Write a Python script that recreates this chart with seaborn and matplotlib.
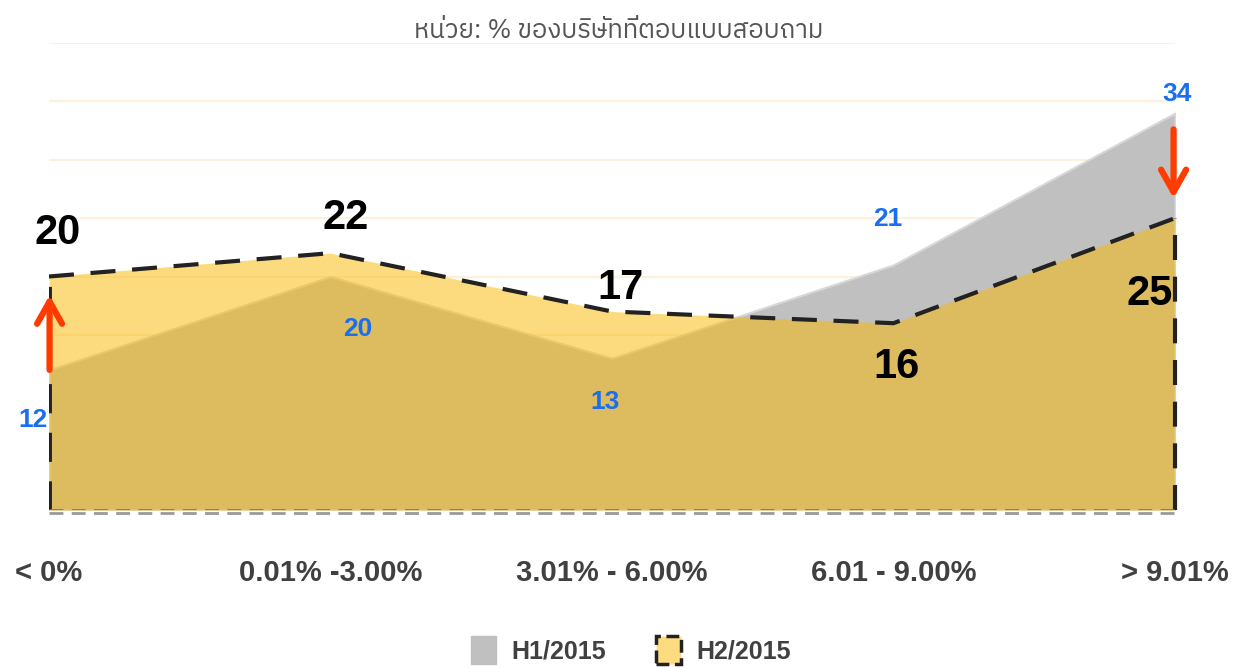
import matplotlib
matplotlib.use("Agg")
import matplotlib.pyplot as plt
from matplotlib import font_manager
from matplotlib.ft2font import FT2Font
from matplotlib.patches import Patch
import seaborn as sns
import numpy as np

categories = ["< 0%", "0.01% -3.00%", "3.01% - 6.00%", "6.01 - 9.00%", "> 9.01%"]
h1_2015 = [12, 20, 13, 21, 34]
h2_2015 = [20, 22, 17, 16, 25]
series_names = ["H1/2015", "H2/2015"]
title = "หน่วย: % ของบริษัทที่ตอบแบบสอบถาม"

# label offsets in pixels (dx, dy) from each point
h2_offsets = [(9, 44), (15, 35), (8, 24), (3, -44), (-25, -76)]
h1_offsets = [(-16, -50), (27, -52), (-7, -44), (-6, 46), (2, 19)]

# arrows: (x, from value, to value)
arrows = [(0.002, 12, 18.4), (3.995, 32.6, 26.7)]


def pick_font(names):
    for n in names:
        try:
            font_manager.findfont(n, fallback_to_default=False)
            return n
        except Exception:
            pass
    return "DejaVu Sans"


def thai_font():
    best = None
    for f in font_manager.fontManager.ttflist:
        try:
            cmap = FT2Font(f.fname).get_charmap()
        except Exception:
            continue
        if 0x0E2B in cmap:
            if "thai" in f.name.lower():
                return f.name
            best = best or f.name
    return best or "DejaVu Sans"


sns.set_style("white")
narrow = pick_font(["Liberation Sans Narrow", "Arial Narrow", "Liberation Sans"])
thai = thai_font()
plt.rcParams["font.family"] = [narrow, "DejaVu Sans"]

gray = "#C0C0C0"
yellow = "#FBB800"
orange = "#FF3B00"

fig = plt.figure(figsize=(12.37, 6.68), dpi=100)
ax = fig.add_axes([49 / 1237, 158 / 668, 1126 / 1237, 467 / 668])
x = np.arange(len(categories))

ax.fill_between(x, h1_2015, color=gray, edgecolor="#D8D8D8", linewidth=1.5, zorder=2)
ax.fill_between(x, h2_2015, color=yellow, alpha=0.5, linewidth=0, zorder=3)
sns.lineplot(x=x, y=h2_2015, ax=ax, color="#222222", linewidth=3, zorder=5)
ax.lines[-1].set_dashes([6, 4])
ax.plot([0, 0], [0, h2_2015[0]], color="#222222", lw=3.5, dashes=[6, 4], zorder=5)
ax.plot([4, 4], [0, h2_2015[-1]], color="#222222", lw=3, dashes=[6, 4], zorder=5, clip_on=False)
ax.axhline(0, color="#777777", lw=2, dashes=[5, 3], zorder=6)
ax.axhline(-0.25, color="#999999", lw=2, dashes=[5, 3], zorder=6, clip_on=False)

for i, v in enumerate(h2_2015):
    dx, dy = h2_offsets[i]
    ax.annotate(str(v), (i, v), xytext=(dx * 0.72, dy * 0.72), textcoords="offset points",
                ha="center", va="center", fontsize=30, fontweight="bold", color="black", zorder=8)
for i, v in enumerate(h1_2015):
    dx, dy = h1_offsets[i]
    ax.annotate(str(v), (i, v), xytext=(dx * 0.72, dy * 0.72), textcoords="offset points",
                ha="center", va="center", fontsize=19, fontweight="bold", color="#1A6EF0", zorder=8)

for ax_x, y0, y1 in arrows:
    ax.annotate("", xy=(ax_x, y1), xytext=(ax_x, y0),
                arrowprops=dict(arrowstyle="->,head_length=0.8,head_width=0.45", color=orange,
                                lw=4.5, mutation_scale=20, shrinkA=0, shrinkB=0),
                zorder=9, annotation_clip=False)

ax.set_xlim(0, 4)
ax.set_ylim(0, 40)
ax.set_yticks(np.arange(0, 41, 5))
ax.yaxis.grid(True, color="#FDF0DF", lw=1.5, zorder=0)
ax.set_axisbelow(True)
ax.set_yticklabels([])
ax.tick_params(axis="y", length=0)
ax.set_xticks(x)
ax.set_xticklabels(categories, fontsize=21, fontweight="bold", color="#404040")
ax.tick_params(axis="x", length=11, width=1, color="#FCEBD5", pad=24)
for s in ax.spines.values():
    s.set_visible(False)

fig.text(0.5, 1 - 30 / 668, title, ha="center", va="center", fontsize=18.5, color="#555555",
         family=[thai, "DejaVu Sans"])

handles = [Patch(facecolor=gray, edgecolor=gray),
           Patch(facecolor="#FDDB7F", edgecolor="#222222", linestyle="--", linewidth=2.5)]
fig.legend(handles, series_names, loc="center", bbox_to_anchor=(0.51, 1 - 650 / 668), ncol=2,
           frameon=False, handlelength=1.0, handleheight=1.4, columnspacing=2.0,
           handletextpad=0.6, prop=dict(weight="bold", size=18))
for t in fig.legends[0].get_texts():
    t.set_color("#404040")

fig.savefig("out.png", dpi=100)
